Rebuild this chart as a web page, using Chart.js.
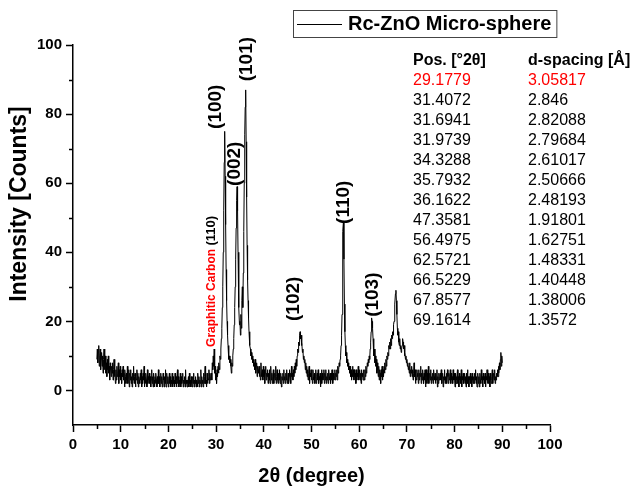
<!DOCTYPE html>
<html><head><meta charset="utf-8">
<script src="https://cdn.jsdelivr.net/npm/chart.js@4.4.1/dist/chart.umd.min.js"></script>
<style>html,body{margin:0;padding:0;background:#fff}canvas{display:block}</style>
</head><body>
<canvas id="c" width="633" height="488"></canvas>
<script>
// ---- data ----
const seriesName = 'Rc-ZnO Micro-sphere';
const xTitle = '2θ (degree)';
const yTitle = 'Intensity [Counts]';
const scanStart = 5.0;   // first 2θ of the scan
const scanStep = 0.1;    // 2θ step of the scan
const intensity = [
 9,12,8,11,13,7,10,12,6,9,
 11,7,10,5,9,12,6,8,10,5,
 8,4,9,6,10,5,7,3,8,6,
 4,7,5,8,3,6,9,4,6,2,
 6,3,7,4,5,8,2,6,4,7,
 3,5,2,6,4,7,3,5,1,6,
 4,2,5,3,7,2,4,6,1,5,
 3,6,2,4,1,5,3,7,2,4,
 5,1,4,3,6,2,5,1,4,3,
 2,5,3,6,1,4,2,5,3,7,
 1,4,2,5,3,1,6,2,4,3,
 5,2,4,1,3,6,2,4,1,5,
 3,1,4,2,5,3,1,4,2,6,
 2,4,1,3,5,2,4,1,3,5,
 3,1,4,2,6,1,3,5,2,4,
 1,3,5,2,4,1,3,2,5,1,
 4,2,3,1,5,2,4,1,3,6,
 2,4,1,3,2,5,1,4,2,3,
 5,1,3,2,4,1,6,2,3,1,
 3,2,4,1,5,2,3,1,4,2,
 1,4,2,5,1,3,2,4,1,3,
 3,1,5,2,4,1,3,2,6,1,
 4,2,3,1,5,2,4,7,2,3,
 1,5,2,4,3,6,2,5,3,4,
 5,3,8,6,10,7,12,5,7,3,
 5,2,6,4,7,5,8,6,10,9,
 12,15,18,24,30,40,52,66,75,62,
 48,35,26,20,16,13,11,9,10,8,
 9,7,5,8,7,10,12,15,19,24,
 30,38,47,55,59,52,40,30,24,19,
 20,16,22,18,26,30,24,34,46,60,
 74,82,87,72,56,42,32,26,21,17,
 15,13,12,10,11,9,10,8,9,7,
 8,6,9,5,7,8,4,7,6,5,
 7,4,6,3,8,5,4,6,3,7,
 4,6,2,5,7,3,5,4,6,2,
 5,3,6,2,4,7,3,5,2,4,
 6,2,4,5,3,7,2,4,6,3,
 2,5,3,6,2,4,5,1,4,3,
 5,2,6,3,4,2,5,3,6,2,
 3,5,2,4,6,3,5,2,7,4,
 5,3,6,4,7,5,8,6,9,7,
 10,12,11,14,13,16,17,15,16,13,
 14,11,12,9,10,8,9,6,8,5,
 7,4,6,3,5,7,2,5,4,6,
 3,5,2,6,4,3,5,2,4,6,
 2,4,5,3,6,2,4,3,5,1,
 4,6,2,5,3,4,6,2,5,3,
 6,2,4,3,5,2,6,4,3,5,
 2,5,3,6,4,2,5,3,4,6,
 3,5,4,6,3,7,5,6,8,7,
 9,10,13,16,22,32,46,49,38,25,
 17,13,10,11,8,9,7,8,6,7,
 5,7,4,6,3,5,7,4,6,3,
 6,4,5,2,6,3,5,4,7,3,
 4,6,3,5,2,6,4,5,3,6,
 5,3,6,4,7,5,6,8,7,9,
 8,10,9,12,14,17,21,20,18,15,
 13,10,12,8,10,7,9,5,8,6,
 4,7,3,6,5,2,6,4,7,3,
 6,4,7,5,8,6,9,7,10,9,
 11,10,13,12,14,12,15,13,16,15,
 17,16,19,20,23,25,28,29,26,22,
 18,16,17,14,13,15,12,13,11,12,
 13,15,14,12,13,10,11,9,10,8,
 9,7,8,6,7,5,8,4,6,5,
 7,4,6,3,5,8,4,6,2,5,
 3,6,4,5,2,6,3,5,4,7,
 2,5,3,6,4,2,5,3,6,1,
 4,6,2,5,3,7,2,4,5,3,
 6,2,4,3,5,2,6,4,3,5,
 2,5,3,6,1,4,2,5,3,4,
 5,3,6,2,4,5,1,4,3,6,
 2,4,3,5,2,6,4,2,5,3,
 4,6,2,5,3,4,2,6,3,5,
 3,1,5,2,4,3,6,2,4,1,
 5,3,4,2,6,1,4,3,5,2,
 3,5,2,4,1,5,3,6,2,4,
 1,4,3,5,2,4,1,5,3,2,
 4,2,5,3,6,2,4,1,3,5,
 2,4,1,5,3,2,6,3,4,1,
 5,3,4,2,5,1,4,3,6,2,
 3,5,2,4,1,5,3,2,4,6,
 2,4,5,3,6,2,4,3,5,4,
 6,4,7,5,8,6,9,11,7,10,
 8
];
const xTickValues = [0,10,20,30,40,50,60,70,80,90,100];
const yTickValues = [0,20,40,60,80,100];
const peakNames = ['(100)','(002)','(101)','(102)','(110)','(103)'];
const peakNameAt2T = [29.9, 33.9, 36.4, 46.2, 56.7, 62.8];
const peakNameBase = [75.7, 59.2, 89.5, 20.1, 48.2, 21.3];
const carbonName = 'Graphitic Carbon';
const carbonIndex = '(110)';
const carbonAt = [29.1, 12.6];
const tableHead = ['Pos. [°2θ]', 'd-spacing [Å]'];
const tablePos = ['29.1779','31.4072','31.6941','31.9739','34.3288','35.7932','36.1622','47.3581','56.4975','62.5721','66.5229','67.8577','69.1614'];
const tableD = ['3.05817','2.846','2.82088','2.79684','2.61017','2.50666','2.48193','1.91801','1.62751','1.48331','1.40448','1.38006','1.3572'];

// ---- drawing ----
const FONT = "'Liberation Sans', Arial, Helvetica, sans-serif";
const points = intensity.map((v, i) => ({ x: Math.round((scanStart + i * scanStep) * 100) / 100, y: v }));

const overlay = {
  id: 'overlay',
  afterDraw(chart) {
    const { ctx, chartArea: ca, scales: { x, y } } = chart;
    ctx.save();
    // minor ticks
    ctx.strokeStyle = '#000';
    ctx.lineWidth = 1.5;
    ctx.beginPath();
    for (let v = 5; v < 100; v += 10) {
      const px = Math.round(x.getPixelForValue(v)) + 0.5;
      ctx.moveTo(px, ca.bottom); ctx.lineTo(px, ca.bottom + 4);
    }
    for (let v = 10; v < 100; v += 20) {
      const py = Math.round(y.getPixelForValue(v)) + 0.5;
      ctx.moveTo(ca.left, py); ctx.lineTo(ca.left - 4, py);
    }
    ctx.stroke();

    // y axis title
    ctx.save();
    ctx.translate(20, 204);
    ctx.rotate(-Math.PI / 2);
    ctx.font = 'bold 23px ' + FONT;
    ctx.fillStyle = '#000';
    ctx.textAlign = 'center';
    ctx.textBaseline = 'middle';
    ctx.fillText(yTitle, 0, 0);
    ctx.restore();

    // peak labels (rotated)
    ctx.fillStyle = '#000';
    ctx.textAlign = 'left';
    ctx.textBaseline = 'middle';
    peakNames.forEach((t, i) => {
      ctx.save();
      ctx.translate(x.getPixelForValue(peakNameAt2T[i]), y.getPixelForValue(peakNameBase[i]));
      ctx.rotate(-Math.PI / 2);
      ctx.font = 'bold 19px ' + FONT;
      ctx.fillText(t, 0, 0);
      ctx.restore();
    });
    // graphitic carbon
    ctx.save();
    ctx.translate(x.getPixelForValue(carbonAt[0]), y.getPixelForValue(carbonAt[1]));
    ctx.rotate(-Math.PI / 2);
    ctx.font = 'bold 12px ' + FONT;
    ctx.fillStyle = '#ff0000';
    ctx.fillText(carbonName, 0, 0);
    const w = ctx.measureText(carbonName + ' ').width;
    ctx.font = 'bold 13px ' + FONT;
    ctx.fillStyle = '#000';
    ctx.fillText(carbonIndex, w, 0);
    ctx.restore();

    // table
    ctx.textBaseline = 'middle';
    ctx.font = 'bold 16px ' + FONT;
    ctx.fillStyle = '#000';
    ctx.fillText(tableHead[0], 413, 60.5);
    ctx.fillText(tableHead[1], 528, 60.5);
    ctx.font = '16px ' + FONT;
    tablePos.forEach((p, i) => {
      ctx.fillStyle = i === 0 ? '#ff0000' : '#000';
      ctx.fillText(p, 413, 80.5 + i * 20);
      ctx.fillText(tableD[i], 528, 80.5 + i * 20);
    });

    // legend
    ctx.font = 'bold 20px ' + FONT;
    const tw = ctx.measureText(seriesName).width;
    ctx.strokeStyle = '#444';
    ctx.lineWidth = 1;
    ctx.strokeRect(293.5, 10.5, 348 + tw + 5 - 293, 27);
    ctx.strokeStyle = '#000';
    ctx.beginPath(); ctx.moveTo(297, 24.5); ctx.lineTo(342, 24.5); ctx.stroke();
    ctx.fillStyle = '#000';
    ctx.fillText(seriesName, 348, 24.5);
    ctx.restore();
  }
};

const tickFont = { family: FONT, size: 15, weight: 'bold' };
new Chart(document.getElementById('c'), {
  type: 'line',
  data: { datasets: [{ label: seriesName, data: points, borderColor: '#000', borderWidth: 1, pointRadius: 0, fill: false, tension: 0 }] },
  options: {
    responsive: false, animation: false, devicePixelRatio: 1,
    layout: { padding: { left: 0, right: 83, top: 45, bottom: 0 } },
    plugins: { legend: { display: false }, tooltip: { enabled: false } },
    scales: {
      x: {
        type: 'linear', min: 0, max: 100,
        afterBuildTicks(s) { s.ticks = xTickValues.map(v => ({ value: v })); },
        ticks: { font: tickFont, color: '#000', padding: 4, maxRotation: 0, autoSkip: false },
        grid: { drawOnChartArea: false, drawTicks: true, tickLength: 7, tickWidth: 1.5, tickColor: '#000' },
        border: { color: '#000', width: 1.5 },
        title: { display: true, text: xTitle, color: '#000', font: { family: FONT, size: 20, weight: 'bold' }, padding: { top: 0, bottom: 0 } },
        afterFit(s) { s.height = 63; }
      },
      y: {
        min: -10, max: 100,
        afterBuildTicks(s) { s.ticks = yTickValues.map(v => ({ value: v })); },
        ticks: { font: tickFont, color: '#000', padding: 4 },
        grid: { drawOnChartArea: false, drawTicks: true, tickLength: 7, tickWidth: 1.5, tickColor: '#000' },
        border: { color: '#000', width: 1.5 },
        title: { display: false },
        afterFit(s) { s.width = 73; }
      }
    }
  },
  plugins: [overlay]
});
</script>
</body></html>
